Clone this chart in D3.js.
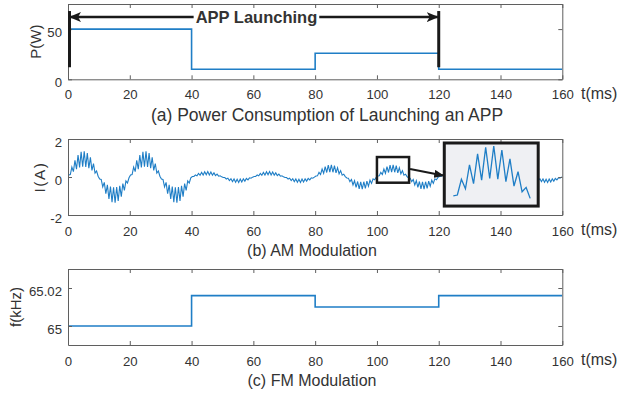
<!DOCTYPE html>
<html><head><meta charset="utf-8">
<script src="https://cdn.jsdelivr.net/npm/d3@7"></script>
<style>body{margin:0;background:#fff} text{font-family:"Liberation Sans",Arial,sans-serif}</style>
</head><body><svg id="c" width="621" height="396"></svg>
<script>
// ---- data ----
const timeTicks = [0,20,40,60,80,100,120,140,160];
const stepTimes = [0,40,80,120,160];
const powerW = [50,10,26,10];
const powerTicks = [0,50];
const amAmplitude = [0.95,0.2,0.45,0.2];   // per 40 ms stage
const amRippleDepth = 0.43;
const amCarrierPeriod = 20;
const amRipplePeriod = 1.0;
const currentTicks = [-2,0,2];
const fmFreq = [65,65.016,65.01,65.016];
const freqTicks = [65,65.02];
const freqTickLabels = ["65","65.02"];
const captions = ["(a) Power Consumption of Launching an APP","(b) AM Modulation","(c) FM Modulation"];
const yLabels = ["P(W)","I(A)","f(kHz)"];
const launch = {start:0, end:120, label:"APP Launching", y:62, lo:12, hi:68, textCenter:61};
const zoomWin = {t0:100, t1:110.4, i0:-0.3, i1:1.05};
const insetBox = {t0:121.8, t1:152.2, i0:-1.53, i1:1.79};
const insetY = [0, 0.63];

// ---- layout ----
const svg = d3.select("#c");
const blue = "#1f7ec6", axisCol = "#5f5f5f", txtCol = "#333";
const x = d3.scaleLinear().domain([0,160]).range([68,562.3]);
const panels = [
  {top:4, bot:79.3, dom:[0,75], ticks:powerTicks, fmt:d=>d, pad:10, cap:{x:327,y:120.5,size:17.5}, ylab:{x:35.5,size:15,ls:0}},
  {top:139, bot:215, dom:[-2,2], ticks:currentTicks, fmt:d=>d, pad:11.5, cap:{x:312,y:255.5,size:16}, ylab:{x:39.5,size:15.5,ls:1.5}},
  {top:269, bot:345, dom:[64.99,65.03], ticks:freqTicks, fmt:(d,i)=>freqTickLabels[i], pad:11.5, cap:{x:312,y:385.5,size:16}, ylab:{x:16,size:15,ls:0}}
];
panels.forEach(p => p.y = d3.scaleLinear().domain(p.dom).range([p.bot,p.top]));

const defs = svg.append("defs");
defs.append("marker").attr("id","ah").attr("markerUnits","userSpaceOnUse")
  .attr("viewBox","0 0 12 10").attr("refX",11).attr("refY",5)
  .attr("markerWidth",12).attr("markerHeight",10).attr("orient","auto")
  .append("path").attr("d","M0,0 L12,5 L0,10 L3,5 Z").attr("fill","#1a1a1a");
defs.append("marker").attr("id","ah2").attr("markerUnits","userSpaceOnUse")
  .attr("viewBox","0 0 10 8").attr("refX",9).attr("refY",4)
  .attr("markerWidth",10).attr("markerHeight",8).attr("orient","auto")
  .append("path").attr("d","M0,0 L10,4 L0,8 Z").attr("fill","#1a1a1a");
panels.forEach((p,i)=>{
  defs.append("clipPath").attr("id","clip"+i).append("rect")
    .attr("x",x.range()[0]).attr("y",p.top).attr("width",x.range()[1]-x.range()[0]).attr("height",p.bot-p.top);
});

function drawAxes(p){
  const g = svg.append("g");
  const styleAx = sel => { sel.attr("font-size",null).attr("font-family",null);
    sel.selectAll("path.domain").attr("stroke",axisCol).attr("stroke-width",1);
    sel.selectAll(".tick line").attr("stroke",axisCol);
    sel.selectAll(".tick text").attr("fill",txtCol).style("font-size","13.2px"); };
  g.append("g").attr("transform",`translate(0,${p.bot})`)
    .call(d3.axisBottom(x).tickValues(timeTicks).tickSize(-4).tickSizeOuter(0).tickPadding(p.pad)).call(styleAx);
  g.append("g").attr("transform",`translate(0,${p.top})`)
    .call(d3.axisTop(x).tickValues(timeTicks).tickSize(-4).tickSizeOuter(0).tickFormat("")).call(styleAx);
  const la = g.append("g").attr("transform",`translate(${x.range()[0]},0)`)
    .call(d3.axisLeft(p.y).tickValues(p.ticks).tickSize(-4).tickSizeOuter(0).tickPadding(6).tickFormat(p.fmt)).call(styleAx);
  la.selectAll(".tick text").attr("dy","0.55em");
  g.append("g").attr("transform",`translate(${x.range()[1]},0)`)
    .call(d3.axisRight(p.y).tickValues(p.ticks).tickSize(-4).tickSizeOuter(0).tickFormat("")).call(styleAx);
  svg.append("text").attr("x",581).attr("y",p.bot+20).attr("fill",txtCol).style("font-size","16px").text("t(ms)");
}

// ---- panel (a) ----
const pa = panels[0];
const stepLine = (p) => d3.line().x(d=>x(d[0])).y(d=>p.y(d[1])).curve(d3.curveStepAfter);
svg.append("path").datum(stepTimes.map((t,i)=>[t, powerW[Math.min(i,powerW.length-1)]]))
  .attr("d",stepLine(pa)).attr("fill","none").attr("stroke",blue).attr("stroke-width",1.6)
  .attr("clip-path","url(#clip0)");
drawAxes(pa);
[launch.start, launch.end].forEach(t=>{
  svg.append("line").attr("x1",x(t)+(t===0?1.5:0)).attr("x2",x(t)+(t===0?1.5:0))
    .attr("y1",pa.y(launch.lo)).attr("y2",pa.y(launch.hi))
    .attr("stroke","#1a1a1a").attr("stroke-width",3);
});
const lt = svg.append("text").attr("x",x(launch.textCenter)).attr("y",pa.y(launch.y)+6)
  .attr("text-anchor","middle").attr("font-weight","bold").attr("fill","#333")
  .style("font-size","16.5px").text(launch.label);
const tw = lt.node().getComputedTextLength();
const tl = x(launch.textCenter)-tw/2-2, tr = x(launch.textCenter)+tw/2+2;
svg.append("line").attr("x1",tl).attr("x2",x(launch.start)+2).attr("y1",pa.y(launch.y)).attr("y2",pa.y(launch.y))
  .attr("stroke","#1a1a1a").attr("stroke-width",2.5).attr("marker-end","url(#ah)");
svg.append("line").attr("x1",tr).attr("x2",x(launch.end)-1).attr("y1",pa.y(launch.y)).attr("y2",pa.y(launch.y))
  .attr("stroke","#1a1a1a").attr("stroke-width",2.5).attr("marker-end","url(#ah)");

// ---- panel (b) ----
const pb = panels[1];
function amVal(t){
  const k = Math.min(amAmplitude.length-1, Math.floor(t/40));
  return amAmplitude[k]*Math.sin(2*Math.PI*t/amCarrierPeriod)*(1+amRippleDepth*Math.sin(2*Math.PI*t/amRipplePeriod));
}
const amPts = [[0,0]];
for(let k=0;;k++){ const t = amRipplePeriod/4 + k*amRipplePeriod/2; if(t>=160) break; amPts.push([t,amVal(t)]); }
amPts.push([160, amVal(160)]);
const plainLine = (xs,ys) => d3.line().x(d=>xs(d[0])).y(d=>ys(d[1]));
svg.append("path").datum(amPts).attr("d",plainLine(x,pb.y)).attr("fill","none")
  .attr("stroke",blue).attr("stroke-width",1.1).attr("clip-path","url(#clip1)");
drawAxes(pb);
// zoom window
svg.append("rect").attr("x",x(zoomWin.t0)).attr("y",pb.y(zoomWin.i1))
  .attr("width",x(zoomWin.t1)-x(zoomWin.t0)).attr("height",pb.y(zoomWin.i0)-pb.y(zoomWin.i1))
  .attr("fill","none").attr("stroke","#1a1a1a").attr("stroke-width",2.5);
// inset
const ibx0 = x(insetBox.t0), ibx1 = x(insetBox.t1), iby0 = pb.y(insetBox.i1), iby1 = pb.y(insetBox.i0);
svg.append("rect").attr("x",ibx0).attr("y",iby0).attr("width",ibx1-ibx0).attr("height",iby1-iby0)
  .attr("fill","#eff0f3").attr("stroke","#1a1a1a").attr("stroke-width",3);
const xi = d3.scaleLinear().domain([zoomWin.t0, 110]).range([ibx0+7, ibx1-6]);
const yi = d3.scaleLinear().domain(insetY).range([iby1-6, iby0+4]);
const inPts = amPts.filter(d=>d[0]>=zoomWin.t0 && d[0]<=110);
svg.append("path").datum(inPts).attr("d",plainLine(xi,yi)).attr("fill","none")
  .attr("stroke",blue).attr("stroke-width",1.3);
svg.append("line").attr("x1",x(zoomWin.t1)+1).attr("y1",pb.y(0.42))
  .attr("x2",ibx0-1).attr("y2",pb.y(0.08))
  .attr("stroke","#1a1a1a").attr("stroke-width",2).attr("marker-end","url(#ah2)");

// ---- panel (c) ----
const pc = panels[2];
svg.append("path").datum(stepTimes.map((t,i)=>[t, fmFreq[Math.min(i,fmFreq.length-1)]]))
  .attr("d",stepLine(pc)).attr("fill","none").attr("stroke",blue).attr("stroke-width",1.6)
  .attr("clip-path","url(#clip2)");
drawAxes(pc);

// ---- captions & y labels ----
panels.forEach((p,i)=>{
  svg.append("text").attr("x",p.cap.x).attr("y",p.cap.y).attr("text-anchor","middle")
    .attr("fill",txtCol).style("font-size",p.cap.size+"px").text(captions[i]);
  svg.append("text").attr("transform",`translate(${p.ylab.x+5},${(p.top+p.bot)/2}) rotate(-90)`)
    .attr("text-anchor","middle").attr("fill",txtCol).style("font-size",p.ylab.size+"px")
    .style("letter-spacing",p.ylab.ls+"px").text(yLabels[i]);
});
</script></body></html>
